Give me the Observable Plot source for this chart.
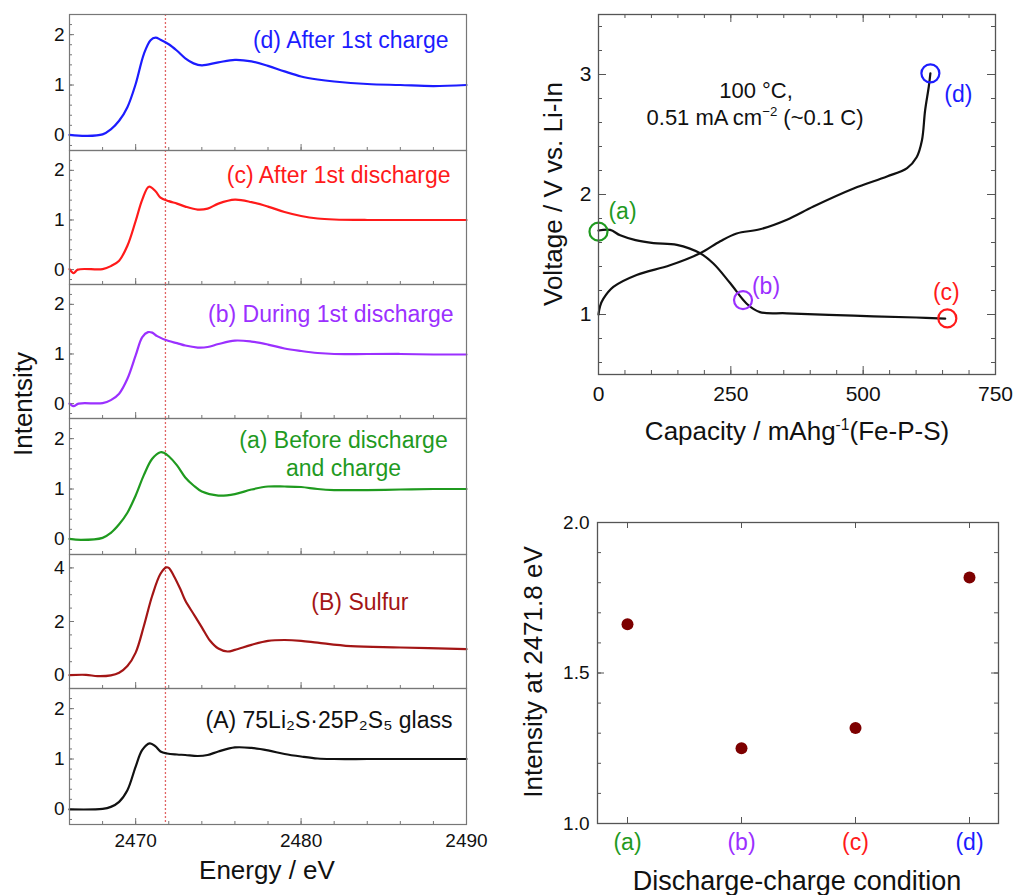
<!DOCTYPE html>
<html><head><meta charset="utf-8">
<script src="https://cdn.jsdelivr.net/npm/d3@7"></script>
<script src="https://cdn.jsdelivr.net/npm/@observablehq/plot@0.6"></script>
<style>
body{margin:0;background:#fff;}
#root{position:relative;width:1015px;height:895px;overflow:hidden;font-family:"Liberation Sans",Arial,Helvetica,sans-serif;color:#111;}
.t{position:absolute;white-space:nowrap;line-height:1;transform:translate(-50%,-50%);}
.t.r{transform:translate(-50%,-50%) rotate(-90deg);}
.t sup{font-size:0.6em;vertical-align:0.65em;line-height:0;}
</style></head><body><div id="root"></div>
<script>
// ---------------- DATA ----------------
// XANES spectra (energy in eV, normalized intensity)
const energyD    = [2466,2467,2468,2468.5,2469,2469.5,2470,2470.5,2470.9,2471.2,2471.5,2472,2472.5,2473,2473.5,2474,2475,2476,2477,2478,2479,2480,2481,2482,2484,2486,2488,2490];
const intensityD = [0.01,-0.01,0.02,0.12,0.29,0.56,1.02,1.62,1.89,1.94,1.90,1.81,1.68,1.53,1.43,1.39,1.45,1.50,1.47,1.38,1.27,1.17,1.11,1.07,1.02,1.00,0.98,1.00];

const energyC    = [2466,2466.25,2466.5,2468,2468.5,2469,2469.5,2470,2470.4,2470.8,2471.2,2471.5,2472,2472.5,2473,2473.75,2474.35,2475,2476,2477,2478,2479,2480,2481,2482,2484,2486,2488,2490];
const intensityC = [0.01,-0.07,0.00,0.01,0.07,0.18,0.48,0.98,1.41,1.67,1.58,1.45,1.38,1.33,1.27,1.21,1.23,1.33,1.41,1.36,1.27,1.16,1.08,1.03,1.01,1.00,1.00,1.00,1.00];

const energyB    = [2466,2466.25,2466.55,2468,2468.5,2469,2469.5,2470,2470.4,2470.75,2471,2471.3,2472,2472.5,2473,2473.75,2474.35,2475,2476,2477,2478,2479,2480,2481,2482,2484,2486,2488,2490];
const intensityB = [0.00,-0.05,0.00,0.01,0.07,0.20,0.50,0.97,1.34,1.44,1.43,1.36,1.26,1.22,1.17,1.13,1.14,1.20,1.27,1.25,1.19,1.11,1.06,1.02,1.00,1.00,1.00,0.99,0.99];

const energyA    = [2466,2466.7,2468,2468.5,2469,2469.5,2470,2470.5,2471,2471.5,2471.7,2472,2472.5,2473,2473.5,2474,2475,2476,2477,2478,2479,2480,2481,2482,2484,2486,2488,2490];
const intensityA = [0.01,-0.01,0.03,0.13,0.30,0.53,0.87,1.28,1.60,1.73,1.72,1.65,1.47,1.23,1.07,0.95,0.87,0.90,0.99,1.05,1.05,1.04,1.00,0.98,0.98,0.99,1.00,1.00];

const energySulfur    = [2466,2467,2467.7,2468.5,2469,2469.5,2470,2470.5,2471,2471.5,2471.85,2472,2472.3,2472.7,2473,2473.5,2474,2474.5,2475,2475.55,2476,2477,2478,2479,2480,2481,2483,2486,2490];
const intensitySulfur = [0.00,0.01,-0.04,-0.01,0.09,0.34,0.84,1.84,2.96,3.78,4.02,4.00,3.71,3.21,2.78,2.28,1.78,1.28,0.99,0.88,0.94,1.13,1.28,1.31,1.28,1.21,1.08,1.03,0.97];

const energyGlass    = [2466,2468,2468.5,2469,2469.5,2470,2470.4,2470.85,2471.2,2471.5,2471.9,2472.5,2473,2473.75,2474.35,2475,2476,2477,2478,2479,2480,2481,2482,2484,2486,2488,2490];
const intensityGlass = [0.00,0.01,0.05,0.15,0.38,0.85,1.18,1.31,1.25,1.15,1.11,1.09,1.08,1.06,1.08,1.15,1.23,1.22,1.17,1.10,1.05,1.01,1.00,1.00,1.00,1.00,1.00];

const panelLabels = ["(d) After 1st charge","(c) After 1st discharge","(b) During 1st discharge","(a) Before discharge\nand charge","(B) Sulfur","(A) 75Li\u2082S\u00b725P\u2082S\u2085 glass"];
const energyTicks = [2470, 2480, 2490];
const intensityTicks = [0, 1, 2];
const sulfurTicks = [0, 2, 4];
const peakEnergy = 2471.8;

// Charge-discharge curves
const dischargeCapacity = [0,22,41,70,104,148,192,217,249,280,305,356,482,600,655];
const dischargeVoltage  = [1.70,1.705,1.66,1.62,1.595,1.58,1.51,1.425,1.26,1.09,1.02,1.01,0.99,0.975,0.965];
const chargeCapacity = [0,3,9,28,72,135,192,230,261,305,356,406,482,545,583,601,611,617,624,627];
const chargeVoltage  = [1.00,1.07,1.13,1.23,1.33,1.41,1.51,1.61,1.675,1.71,1.79,1.90,2.05,2.15,2.22,2.31,2.45,2.70,2.90,3.01];
const markerLabels   = ["(a)","(b)","(c)","(d)"];
const markerCapacity = [0, 273, 659, 627];
const markerVoltage  = [1.69, 1.12, 0.967, 3.01];
const capacityTicks = [0, 250, 500, 750];
const voltageTicks = [1, 2, 3];

// Intensity at 2471.8 eV
const conditions = ["(a)","(b)","(c)","(d)"];
const peakIntensity = [1.662, 1.25, 1.317, 1.817];
const peakTicks = [1.0, 1.5, 2.0];

// ---------------- STYLE / LAYOUT ----------------
const FONT = '"Liberation Sans", Arial, Helvetica, sans-serif';
const BLUE = "#1c1cff", RED = "#ff1a1a", PURPLE = "#9b30ff", GREEN = "#1f9a1f", DARKRED = "#a31515", BLACK = "#111111";
const conditionColors = [GREEN, PURPLE, RED, BLUE];
const frameColor = "#777", tickColor = "#777";
const root = document.getElementById("root");
const baseStyle = {fontFamily: FONT, background: "transparent", color: "#111", overflow: "visible"};
const plain = d => String(d);

function place(svg, left, top){ svg.style.position = "absolute"; svg.style.left = left + "px"; svg.style.top = top + "px"; root.appendChild(svg); }
function zipXY(xs, ys){ return xs.map((x, i) => ({x, y: ys[i]})); }
function stepTicks(lo, hi, step){ const out = []; const s = Math.ceil(lo/step - 1e-9); for (let k = s; k*step <= hi + 1e-9; k++) out.push(+(k*step).toFixed(6)); return out; }
function html(text, x, y, size, opts = {}){
  const d = document.createElement("div");
  d.className = "t" + (opts.rot ? " r" : "");
  d.style.left = x + "px"; d.style.top = y + "px"; d.style.fontSize = size + "px";
  if (opts.color) d.style.color = opts.color;
  d.innerHTML = text;
  root.appendChild(d);
}

// ---------------- LEFT: stacked XANES panels ----------------
const panels = [
  {E: energyD, I: intensityD, color: BLUE, yDomain: [-0.3, 2.4], yTicks: intensityTicks, minor: 0.2, top: 14, bottom: 150, label: panelLabels[0], anchor: "end", dx: -18, dy: 24},
  {E: energyC, I: intensityC, color: RED, yDomain: [-0.3, 2.4], yTicks: intensityTicks, minor: 0.2, top: 150, bottom: 284, label: panelLabels[1], anchor: "end", dx: -16, dy: 23},
  {E: energyB, I: intensityB, color: PURPLE, yDomain: [-0.3, 2.4], yTicks: intensityTicks, minor: 0.2, top: 284, bottom: 418, label: panelLabels[2], anchor: "end", dx: -13, dy: 28},
  {E: energyA, I: intensityA, color: GREEN, yDomain: [-0.3, 2.4], yTicks: intensityTicks, minor: 0.2, top: 418, bottom: 554, label: panelLabels[3], anchor: "middle", dx: -123, dy: 34.5},
  {E: energySulfur, I: intensitySulfur, color: DARKRED, yDomain: [-0.5, 4.5], yTicks: sulfurTicks, minor: 0.5, top: 554, bottom: 688, label: panelLabels[4], anchor: "end", dx: -58, dy: 46},
  {E: energyGlass, I: intensityGlass, color: BLACK, yDomain: [-0.3, 2.4], yTicks: intensityTicks, minor: 0.2, top: 688, bottom: 824, label: panelLabels[5], anchor: "end", dx: -14, dy: 30}
];
const xMinor = stepTicks(2468, 2488, 2);
const xMajor = [2470, 2480];
panels.forEach((p, idx) => {
  const last = idx === panels.length - 1;
  const ml = 69, mr = 14, mt = 1, mb = last ? 40 : 1, width = 480;
  const innerH = p.bottom - p.top, innerW = width - ml - mr;
  const yMinor = stepTicks(p.yDomain[0], p.yDomain[1], p.minor);
  const marks = [
    Plot.ruleY(yMinor, {y: d => d, stroke: tickColor, insetRight: innerW - 3}),
    Plot.ruleY(p.yTicks, {y: d => d, stroke: tickColor, insetRight: innerW - 5}),
    Plot.ruleX(xMinor, {x: d => d, stroke: tickColor, insetTop: innerH - 3}),
    Plot.ruleX(xMajor, {x: d => d, stroke: tickColor, insetTop: innerH - 6}),
    Plot.axisY(p.yTicks, {tickSize: 0, tickPadding: 5, fontSize: 19, tickFormat: plain, label: null}),
    Plot.ruleX([peakEnergy], {x: d => d, stroke: "#e06464", strokeDasharray: "2,2", strokeWidth: 1.3}),
    Plot.line(zipXY(p.E, p.I), {x: "x", y: "y", stroke: p.color, strokeWidth: 2.2, curve: "catmull-rom"}),
    Plot.text([p.label], {text: d => d, frameAnchor: "top-right", textAnchor: p.anchor, lineAnchor: "middle", dx: p.dx, dy: p.dy, fill: p.color, fontSize: 23, lineHeight: 1.24}),
    Plot.frame({stroke: frameColor, strokeWidth: 1.2})
  ];
  if (last) marks.push(Plot.axisX(energyTicks, {tickSize: 0, tickPadding: 9, fontSize: 19, tickFormat: plain, label: null}));
  const svg = Plot.plot({
    width, height: innerH + mt + mb, marginLeft: ml, marginRight: mr, marginTop: mt, marginBottom: mb,
    x: {domain: [2466, 2490], axis: null}, y: {domain: p.yDomain, axis: null},
    style: baseStyle, marks
  });
  place(svg, 0, p.top - mt);
});
html("Intentsity", 22.5, 404, 26, {rot: true});
html("Energy / eV", 267, 870, 26);

// ---------------- TOP RIGHT: charge/discharge ----------------
{
  const width = 495, height = 460, ml = 78, mr = 20, mt = 14, mb = 86;
  const innerW = width - ml - mr, innerH = height - mt - mb;
  const xMin = stepTicks(0, 750, 50), yMin = stepTicks(0.6, 3.4, 0.2);
  const markerIdx = markerLabels.map((_, i) => i);
  const labelOffsets = [[24, -20], [23, -13], [-1, -26], [28, 21]];
  const marks = [
    Plot.ruleX(xMin, {x: d => d, stroke: "#555", insetTop: innerH - 4}),
    Plot.ruleX(xMin, {x: d => d, stroke: "#555", insetBottom: innerH - 4}),
    Plot.ruleX(capacityTicks, {x: d => d, stroke: "#555", insetTop: innerH - 8}),
    Plot.ruleX(capacityTicks, {x: d => d, stroke: "#555", insetBottom: innerH - 8}),
    Plot.ruleY(yMin, {y: d => d, stroke: "#555", insetRight: innerW - 4}),
    Plot.ruleY(yMin, {y: d => d, stroke: "#555", insetLeft: innerW - 4}),
    Plot.ruleY(voltageTicks, {y: d => d, stroke: "#555", insetRight: innerW - 8}),
    Plot.ruleY(voltageTicks, {y: d => d, stroke: "#555", insetLeft: innerW - 8}),
    Plot.axisX(capacityTicks, {tickSize: 0, tickPadding: 12, fontSize: 21, tickFormat: plain, label: null}),
    Plot.axisY(voltageTicks, {tickSize: 0, tickPadding: 7, fontSize: 21, tickFormat: plain, label: null}),
    Plot.line(zipXY(dischargeCapacity, dischargeVoltage), {x: "x", y: "y", stroke: BLACK, strokeWidth: 2.2, curve: "catmull-rom"}),
    Plot.line(zipXY(chargeCapacity, chargeVoltage), {x: "x", y: "y", stroke: BLACK, strokeWidth: 2.2, curve: "catmull-rom"}),
    Plot.dot(markerIdx, {x: i => markerCapacity[i], y: i => markerVoltage[i], r: 9, stroke: i => conditionColors[i], strokeWidth: 2.2, fill: "none"}),
    ...markerIdx.map(i => Plot.text([i], {x: j => markerCapacity[j], y: j => markerVoltage[j], text: j => markerLabels[j], fill: conditionColors[i], dx: labelOffsets[i][0], dy: labelOffsets[i][1], fontSize: 23, lineAnchor: "middle"})),
    Plot.frame({stroke: "#555", strokeWidth: 1.3})
  ];
  const svg = Plot.plot({
    width, height, marginLeft: ml, marginRight: mr, marginTop: mt, marginBottom: mb,
    x: {domain: [0, 750], axis: null}, y: {domain: [0.5, 3.5], axis: null}, color: {type: "identity"},
    style: baseStyle, marks
  });
  place(svg, 520, 0);
}
html("Voltage / V vs. Li-In", 553, 193.5, 26, {rot: true});
html("Capacity / mAhg<sup>-1</sup>(Fe-P-S)", 797, 431, 26);
html("100 °C,", 756, 91, 22);
html("0.51 mA\u2009cm<sup>\u22122</sup> (~0.1 C)", 755, 118, 22);

// ---------------- BOTTOM RIGHT: intensity at 2471.8 eV ----------------
{
  const width = 495, height = 415, ml = 77, mr = 17, mt = 42, mb = 72;
  const innerW = width - ml - mr, innerH = height - mt - mb;
  const yMin = stepTicks(1.0, 2.0, 0.1);
  const marks = [
    Plot.ruleX(conditions, {x: d => d, stroke: "#555", insetTop: innerH - 6}),
    Plot.ruleX(conditions, {x: d => d, stroke: "#555", insetBottom: innerH - 6}),
    Plot.ruleY(yMin, {y: d => d, stroke: "#555", insetRight: innerW - 4}),
    Plot.ruleY(yMin, {y: d => d, stroke: "#555", insetLeft: innerW - 4}),
    Plot.ruleY(peakTicks, {y: d => d, stroke: "#555", insetRight: innerW - 7}),
    Plot.ruleY(peakTicks, {y: d => d, stroke: "#555", insetLeft: innerW - 7}),
    Plot.axisY(peakTicks, {tickSize: 0, tickPadding: 8, fontSize: 19, tickFormat: d => d.toFixed(1), label: null}),
    Plot.text(conditions, {x: d => d, text: d => d, fill: (d, i) => conditionColors[i], frameAnchor: "bottom", lineAnchor: "top", dy: 10, fontSize: 23}),
    Plot.dot(conditions, {x: d => d, y: (d, i) => peakIntensity[i], r: 6, fill: "#7d0000"}),
    Plot.frame({stroke: "#555", strokeWidth: 1.3})
  ];
  const svg = Plot.plot({
    width, height, marginLeft: ml, marginRight: mr, marginTop: mt, marginBottom: mb,
    x: {type: "point", domain: conditions, padding: 0.25, axis: null}, y: {domain: [1, 2], axis: null}, color: {type: "identity"},
    style: baseStyle, marks
  });
  place(svg, 520, 480);
}
html("Intensity at 2471.8 eV", 532.5, 671.5, 26, {rot: true});
html("Discharge-charge condition", 797, 881, 27);
</script></body></html>
